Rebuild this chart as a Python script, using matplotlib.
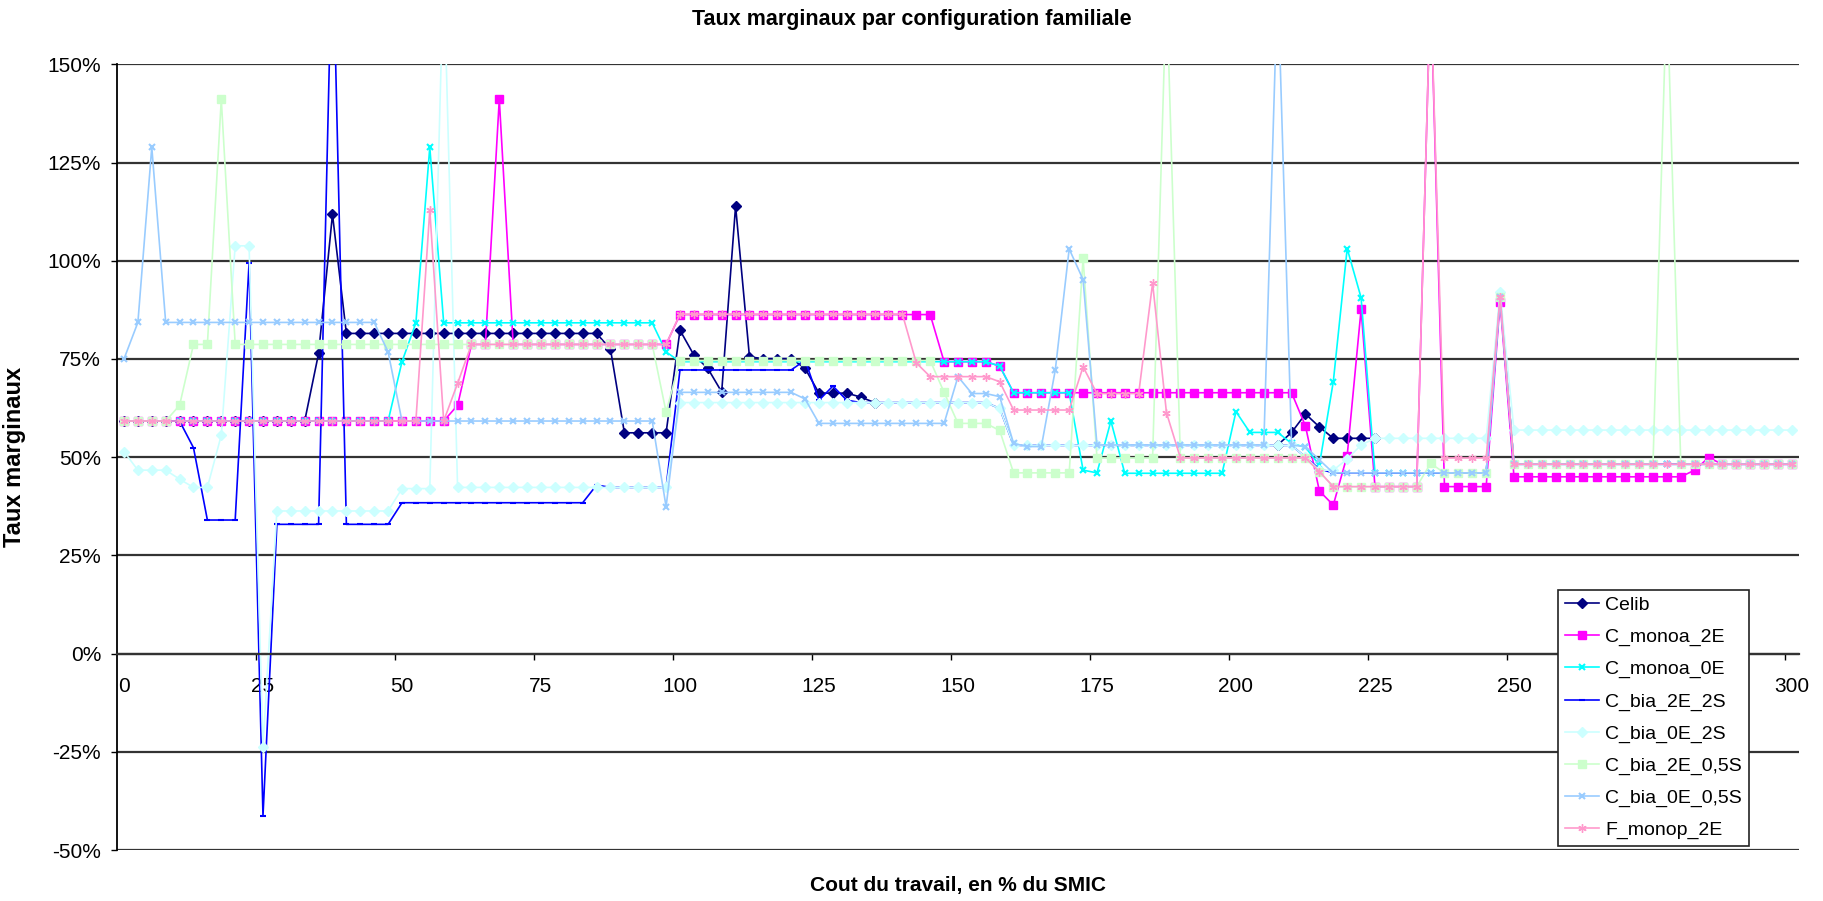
import numpy as np
import matplotlib.pyplot as plt

plt.rcParams['font.family'] = ['Liberation Sans', 'DejaVu Sans']

nan = np.nan

# categories: cout du travail en % du SMIC (pas de 2,5)
cout = np.arange(0, 300.1, 2.5)

# taux marginaux en % (121 points par serie)
celib = ([59.2] * 14 + [76.4, 111.8] + [81.5] * 19 + [77.5] + [56.2] * 4
         + [82.3, 76.0, 72.6, 66.6, 113.9, 75.5] + [75.1] * 3 + [72.6]
         + [66.3] * 3 + [65.3, 63.9] + [nan] * 28
         + [53.1, 56.3, 61.0, 57.7] + [54.8] * 4 + [nan] * 30)

c_monoa_2e = ([59.2] * 24 + [63.2] + [78.7] * 2 + [141.1] + [78.7] * 12
              + [86.3] * 19 + [74.3] * 4 + [73.2] + [66.4] * 21
              + [57.9, 41.4, 37.8, 50.4, 87.6] + [42.5] * 4 + [170]
              + [42.5] * 4 + [89.6] + [45.0] * 13 + [46.7, 49.9] + [48.2] * 6)

c_monoa_0e = ([59.2] * 20 + [74.3, 84.2, 128.9] + [84.2] * 16 + [76.8]
              + [74.3] * 19 + [74.3] * 4 + [73.2] + [66.4] * 5
              + [46.7, 46.0, 59.2] + [45.9] * 8 + [61.6] + [56.3] * 3
              + [53.5, 52.5, 48.0, 69.2, 103.1, 90.6] + [46.0] * 9 + [91.5]
              + [48.2] * 21)

c_bia_2e_2s = ([59.2] * 5 + [52.4] + [34.0] * 3 + [99.5, -41.3] + [32.9] * 4
               + [185] + [32.9] * 4 + [38.4] * 14 + [42.9] + [42.3] * 5
               + [72.2] * 9 + [74.7, 64.5, 68.1, 64.5] + [63.9] * 10 + [62.4]
               + [53.0] * 21 + [50.0, 47.0] + [46.0] * 12 + [90.8]
               + [48.2] * 21)

c_bia_0e_2s = ([51.4] + [46.7] * 3 + [44.4] + [42.3] * 2 + [55.6]
               + [103.8] * 2 + [-23.7] + [36.3] * 9 + [42.0] * 3 + [175]
               + [42.3] * 16 + [63.9] * 23 + [62.4] + [53.0] * 20
               + [53.0, 50.0] + [46.7] * 2 + [49.5, 53.1] + [54.8] * 9
               + [92.1] + [56.9] * 21)

c_bia_2e_05s = ([59.2] * 4 + [63.2] + [78.7] * 2 + [141.1] + [78.7] * 31
                + [61.5] + [74.6] * 19 + [66.5] + [58.6] * 3 + [56.8]
                + [46.0] * 5 + [100.6] + [49.8] * 5 + [170] + [49.8] * 10
                + [46.3] + [42.5] * 7 + [48.4] + [46.0] * 4 + [90.8]
                + [48.2] * 11 + [170] + [48.2] * 9)

c_bia_0e_05s = ([75.0, 84.3, 128.9] + [84.3] * 16 + [76.8] + [59.2] * 19
                + [37.4] + [66.5] * 9 + [64.8] + [58.6] * 10 + [70.5]
                + [66.2] * 2 + [65.4, 53.5] + [52.7] * 2 + [72.2, 103.0, 95.2]
                + [53.1] * 13 + [172, 53.1, 52.7, 49.3] + [46.0] * 12 + [90.8]
                + [48.2] * 21)

f_monop_2e = ([59.2] * 22 + [112.9, 59.2, 68.8] + [78.7] * 15 + [86.4] * 17
              + [74.0] + [70.5] * 5 + [69.2] + [62.0] * 5 + [73.0]
              + [66.2] * 4 + [94.3, 61.3] + [49.8] * 10 + [46.3] + [42.5] * 7
              + [170] + [49.8] * 4 + [90.8] + [48.2] * 21)

noms = ['Celib', 'C_monoa_2E', 'C_monoa_0E', 'C_bia_2E_2S', 'C_bia_0E_2S',
        'C_bia_2E_0,5S', 'C_bia_0E_0,5S', 'F_monop_2E']
valeurs = [celib, c_monoa_2e, c_monoa_0e, c_bia_2e_2s, c_bia_0e_2s,
           c_bia_2e_05s, c_bia_0e_05s, f_monop_2e]
couleurs = ['#000080', '#FF00FF', '#00FFFF', '#0000FF', '#CCFFFF',
            '#CCFFCC', '#99CCFF', '#FF99CC']
marqueurs = ['D', 's', 'x', '_', 'D', 's', 'x', (6, 2, 0)]
tailles = [5, 5.5, 5, 5, 5, 5.5, 5, 6]

fig = plt.figure(figsize=(18.23, 9.01), dpi=100)
ax = fig.add_axes([0.0642, 0.0566, 0.9226, 0.872])

# axe des x sur la ligne 0% (a faire avant de regler les graduations)
ax.spines['top'].set_visible(False)
ax.spines['right'].set_visible(False)
ax.spines['bottom'].set_position(('data', 0))
ax.spines['bottom'].set_color('#333333')
ax.spines['bottom'].set_linewidth(1.6)
ax.spines['left'].set_linewidth(1.3)

for nom, v, c, m, ms in zip(noms, valeurs, couleurs, marqueurs, tailles):
    ax.plot(cout, v, color=c, lw=1.2, marker=m, ms=ms, mfc=c, mec=c,
            mew=1.5 if m in ('x', '_') else 1, label=nom)

ax.set_xlim(-1.25, 301.25)
ax.set_ylim(-50, 150)

yt = list(range(-50, 151, 25))
ax.set_yticks(yt)
ax.set_yticklabels([f'{v}%' for v in yt], fontsize=15)
ax.tick_params(axis='y', direction='out', length=4.5, width=1, pad=7)

ax.set_xticks(range(0, 301, 25))
ax.set_xticklabels([str(v) for v in range(0, 301, 25)], fontsize=15)
ax.set_xticks([25 * k - 1.25 for k in range(1, 13)], minor=True)
ax.tick_params(axis='x', which='major', length=0, pad=17)
ax.tick_params(axis='x', which='minor', direction='out', length=4.5, width=1)

ax.grid(axis='y', color='#333333', lw=1.6)
ax.set_axisbelow(True)

ax.set_ylabel('Taux marginaux', fontsize=17, fontweight='bold')
ax.yaxis.set_label_coords(-0.054, 0.5)
ax.set_xlabel('Cout du travail, en % du SMIC', fontsize=15, fontweight='bold')
ax.xaxis.set_label_coords(0.5, -0.033)

fig.text(0.5, 1 - 20 / 901, 'Taux marginaux par configuration familiale',
         ha='center', va='center', fontsize=15.5, fontweight='bold')

leg = ax.legend(loc='lower left', bbox_to_anchor=(0.857, 0.005),
                fontsize=14, frameon=True, fancybox=False, framealpha=1,
                edgecolor='#222222', borderpad=0.35, labelspacing=0.74,
                handlelength=1.75, handletextpad=0.3, borderaxespad=0)
leg.get_frame().set_linewidth(1.2)
leg.set_zorder(10)

fig.savefig('out.png', dpi=100)
